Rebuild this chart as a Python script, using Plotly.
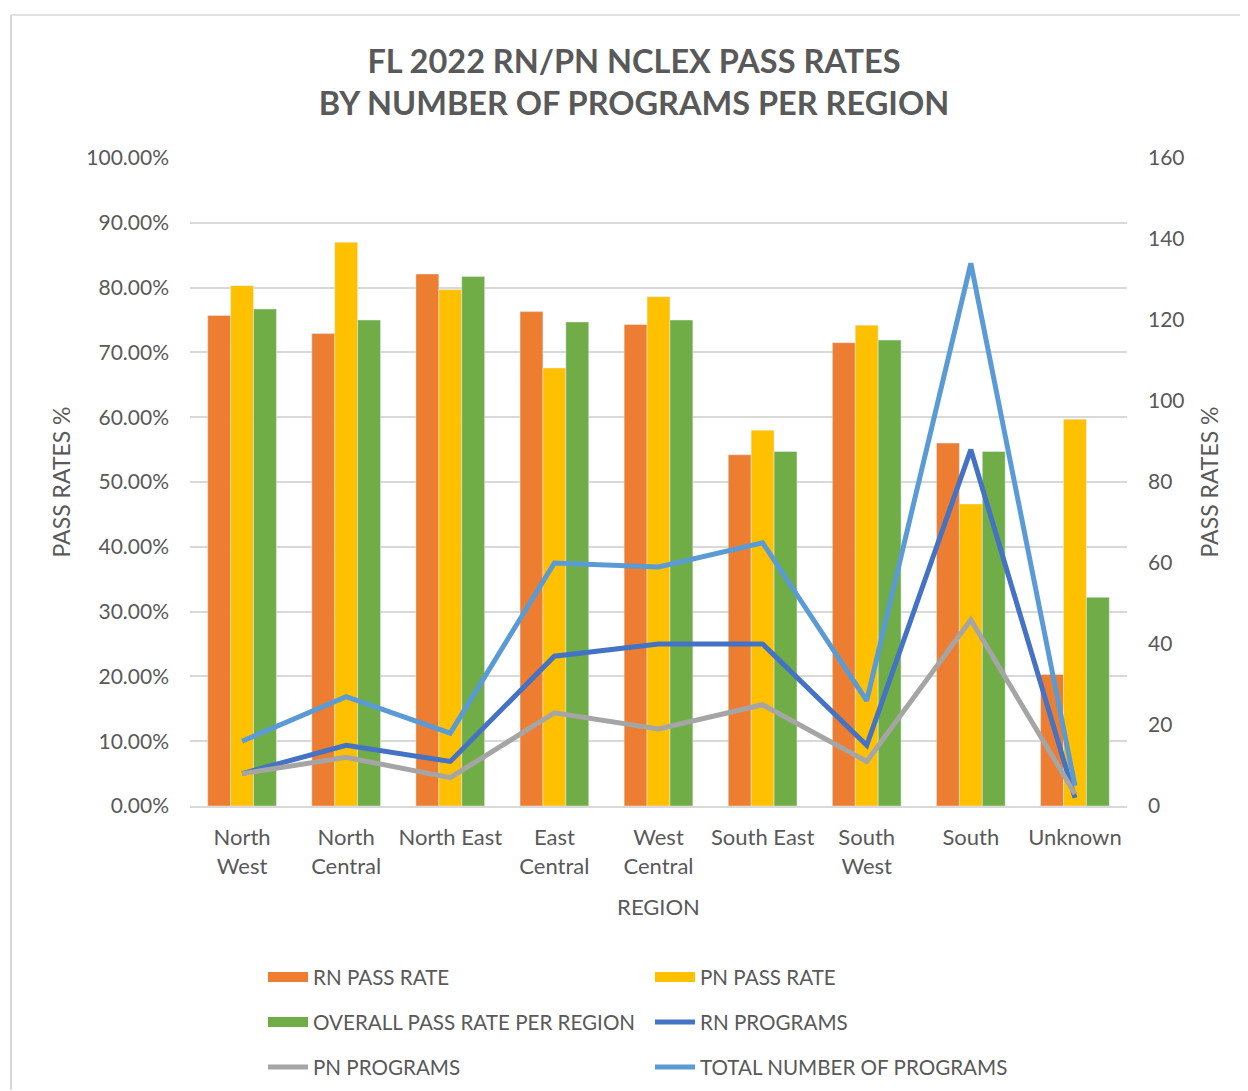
import plotly.graph_objects as go

regions = ["North<br>West", "North<br>Central", "North East", "East<br>Central", "West<br>Central",
           "South East", "South<br>West", "South", "Unknown"]
rn_rate = [75.7, 72.9, 82.1, 76.3, 74.3, 54.2, 71.5, 56.0, 20.3]
pn_rate = [80.3, 87.0, 79.7, 67.6, 78.6, 58.0, 74.2, 46.6, 59.7]
overall_rate = [76.7, 75.0, 81.7, 74.7, 75.0, 54.7, 71.9, 54.7, 32.2]
rn_programs = [8, 15, 11, 37, 40, 40, 15, 88, 2]
pn_programs = [8, 12, 7, 23, 19, 25, 11, 46, 3]
total_programs = [16, 27, 18, 60, 59, 65, 26, 134, 5]

left_ticks = [0, 10, 20, 30, 40, 50, 60, 70, 80, 90, 100]
right_ticks = [0, 20, 40, 60, 80, 100, 120, 140, 160]

FONT = "Lato"
GRAY = "#595959"
C_RN, C_PN, C_ALL = "#ED7D31", "#FFC000", "#70AD47"
C_RNP, C_PNP, C_TOT = "#4472C4", "#A5A5A5", "#5B9BD5"

OFF = 8  # page body margin
PAGE_W, PAGE_H = 1248, 1091
W, H = PAGE_W - OFF, PAGE_H - OFF
# plot area in page pixels
L, R, T, B = 190, 1127, 158, 806
def px(x):
    return (x - L) / (R - L)
def py(y):
    return (B - y) / (B - T)

fig = go.Figure()
fig.add_trace(go.Bar(x=regions, y=rn_rate, name="RN PASS RATE", marker_color=C_RN, showlegend=False))
fig.add_trace(go.Bar(x=regions, y=pn_rate, name="PN PASS RATE", marker_color=C_PN, showlegend=False))
fig.add_trace(go.Bar(x=regions, y=overall_rate, name="OVERALL PASS RATE PER REGION",
                     marker_color=C_ALL, showlegend=False))
fig.add_trace(go.Scatter(x=regions, y=rn_programs, name="RN PROGRAMS", mode="lines",
                         line=dict(color=C_RNP, width=5), yaxis="y2", showlegend=False))
fig.add_trace(go.Scatter(x=regions, y=pn_programs, name="PN PROGRAMS", mode="lines",
                         line=dict(color=C_PNP, width=5), yaxis="y2", showlegend=False))
fig.add_trace(go.Scatter(x=regions, y=total_programs, name="TOTAL NUMBER OF PROGRAMS", mode="lines",
                         line=dict(color=C_TOT, width=5), yaxis="y2", showlegend=False))

# legend entries
legend_items = [
    ("RN PASS RATE", C_RN, 15, "legend"),
    ("PN PASS RATE", C_PN, 15, "legend"),
    ("OVERALL PASS RATE PER REGION", C_ALL, 15, "legend2"),
    ("RN PROGRAMS", C_RNP, 5, "legend2"),
    ("PN PROGRAMS", C_PNP, 5, "legend3"),
    ("TOTAL NUMBER OF PROGRAMS", C_TOT, 5, "legend3"),
]
for name, color, w, lg in legend_items:
    fig.add_trace(go.Scatter(x=[None], y=[None], name=name, mode="lines",
                             line=dict(color=color, width=w), legend=lg, showlegend=True))

legend_common = dict(orientation="h", xanchor="left", yanchor="middle",
                     font=dict(family=FONT, size=20.6, color=GRAY),
                     entrywidth=332, entrywidthmode="pixels", bgcolor="rgba(0,0,0,0)",
                     itemwidth=40, tracegroupgap=0)

fig.update_layout(
    width=W, height=H,
    margin=dict(l=L - OFF, r=PAGE_W - R, t=T - OFF, b=PAGE_H - B, autoexpand=False),
    paper_bgcolor="white", plot_bgcolor="white",
    barmode="group", bargap=0.34, bargroupgap=0,
    font=dict(family=FONT, color=GRAY),
    title=dict(text="<b>FL 2022 RN/PN NCLEX PASS RATES<br>BY NUMBER OF PROGRAMS PER REGION</b>",
               x=(634 - OFF) / W, xanchor="center", y=1 - (73 - OFF) / H, yanchor="middle",
               font=dict(family=FONT, size=32.5, color=GRAY)),
    xaxis=dict(tickfont=dict(family=FONT, size=22, color=GRAY), showgrid=False,
               showline=True, linecolor="#D9D9D9", linewidth=1.5, ticks="",
               ticklabelstandoff=11,
               title=dict(text="REGION", font=dict(family=FONT, size=22, color=GRAY), standoff=22)),
    yaxis=dict(range=[0, 100], tickvals=left_ticks,
               ticktext=[f"{v:.2f}%" for v in left_ticks],
               tickfont=dict(family=FONT, size=21, color=GRAY),
               showgrid=True, gridcolor="#D9D9D9", gridwidth=1.5, zeroline=False,
               ticks="", ticklabelstandoff=20,
               title=dict(text="PASS RATES %", font=dict(family=FONT, size=23, color=GRAY), standoff=9)),
    yaxis2=dict(range=[0, 160], tickvals=right_ticks, overlaying="y", side="right",
                tickfont=dict(family=FONT, size=21, color=GRAY), showgrid=False, zeroline=False,
                ticks="", ticklabelstandoff=20,
                title=dict(text="PASS RATES %", font=dict(family=FONT, size=23, color=GRAY), standoff=18)),
    legend=dict(x=px(263), y=py(977), **legend_common),
    legend2=dict(x=px(263), y=py(1022), **legend_common),
    legend3=dict(x=px(263), y=py(1067), **legend_common),
    showlegend=True,
    shapes=[
        dict(type="line", xref="paper", yref="paper", x0=px(11), x1=px(1260), y0=py(15), y1=py(15),
             line=dict(color="#D9D9D9", width=1.5)),
        dict(type="line", xref="paper", yref="paper", x0=px(11), x1=px(11), y0=py(15), y1=py(1090),
             line=dict(color="#D9D9D9", width=2)),
    ],
)

fig.write_html("out.html")
